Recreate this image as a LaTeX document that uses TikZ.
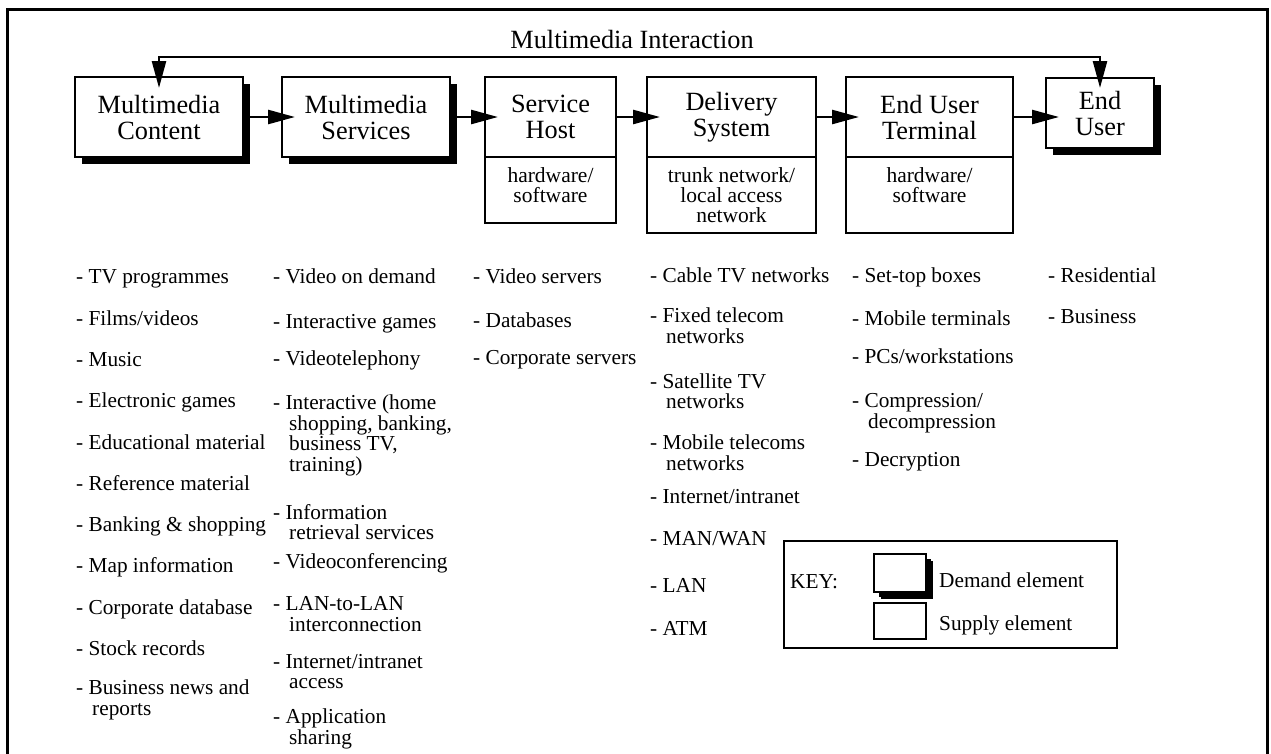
\documentclass[tikz,border=0pt]{standalone}
\usepackage{fontspec}
\setmainfont{Liberation Serif}
\usetikzlibrary{positioning,shadows,arrows.meta,calc}
\tikzstyle{supply} = [rectangle, draw=black, line width=2.5pt, fill=white, outer sep=0pt, inner sep=0pt, minimum width=168pt, minimum height=80pt, align=center, font=\fontsize{26.3}{26}\selectfont]
\tikzstyle{demand} = [supply, drop shadow={shadow xshift=7pt, shadow yshift=-7pt, fill=black, opacity=1}]
\tikzstyle{subbox} = [rectangle, draw=black, line width=2.5pt, fill=white, outer sep=0pt, inner sep=0pt]
\tikzstyle{subtext} = [anchor=north, align=center, inner sep=0pt, font=\fontsize{21.5}{20}\selectfont]
\tikzstyle{itemlist} = [anchor=north west, align=left, inner sep=0pt, font=\fontsize{21.3}{20.5}\selectfont]
\tikzstyle{arrow} = [line width=2.5pt, >={Triangle[length=27pt, width=14pt]}, ->]
\newcommand{\itemind}{\hspace*{16pt}}

\begin{document}
\begin{tikzpicture}[x=1pt, y=-1pt]
	\useasboundingbox (0,0) rectangle (1271,753);
	\draw[line width=3pt] (7,760) -- (7,9) -- (1267,9) -- (1267,760);
	%chain
	\node (mc) [demand] at (159,117) {Multimedia\\Content};
	\node (ms) [demand, right=39pt of mc] {Multimedia\\Services};
	\node (sh) [supply, minimum width=131pt, right=35pt of ms] {Service\\Host};
	\node (shsub) [subbox, minimum width=131pt, minimum height=66pt, below=0pt of sh] {};
	\node (ds) [supply, minimum width=169pt, right=31pt of sh] {Delivery\\System};
	\node (dssub) [subbox, minimum width=169pt, minimum height=76pt, below=0pt of ds] {};
	\node (eut) [supply, minimum width=167pt, right=30pt of ds] {End User\\Terminal};
	\node (eutsub) [subbox, minimum width=167pt, minimum height=76pt, below=0pt of eut] {};
	\node (eu) [demand, minimum width=108pt, minimum height=70pt, right=33pt of eut, yshift=4pt] {End\\User};
	\node (shtxt) [subtext] at ($(shsub.north)+(0,10.5)$) {hardware/\\software};
	\node (dstxt) [subtext] at ($(dssub.north)+(0,10.5)$) {trunk network/\\local access\\network};
	\node (euttxt) [subtext] at ($(eutsub.north)+(0,10.5)$) {hardware/\\software};
	\node (inter) [anchor=base, inner sep=0pt, font=\fontsize{26.3}{26}\selectfont] at (632,48) {Multimedia Interaction};
	%lines
	\draw [arrow, <->, shorten <=-11pt, shorten >=-10pt] (mc.north) -- ++(0,-20) -| (eu.north);
	\draw [arrow, shorten >=-13pt] (mc.east) -- (ms.west);
	\draw [arrow, shorten >=-13pt] (ms.east) -- (sh.west);
	\draw [arrow, shorten >=-13pt] (sh.east) -- (ds.west);
	\draw [arrow, shorten >=-13pt] (ds.east) -- (eut.west);
	\draw [arrow, shorten >=-13pt] (eut.east) -- (eut.east -| eu.west);
	%lists
	\node (col1) [itemlist] at (76,269.7) {- TV programmes\\[20.8pt]- Films/videos\\[20.8pt]- Music\\[20.8pt]- Electronic games\\[20.8pt]- Educational material\\[20.8pt]- Reference material\\[20.8pt]- Banking \& shopping\\[20.8pt]- Map information\\[20.8pt]- Corporate database\\[20.8pt]- Stock records\\[18.5pt]- Business news and\\\itemind reports};
	\node (col2) [itemlist] at (273,268.7) {- Video on demand\\[24.5pt]- Interactive games\\[16.5pt]- Videotelephony\\[23.5pt]- Interactive (home\\\itemind shopping, banking,\\\itemind business TV,\\\itemind training)\\[27.5pt]- Information\\\itemind retrieval services\\[8.5pt]- Videoconferencing\\[21.5pt]- LAN-to-LAN\\\itemind interconnection\\[16.5pt]- Internet/intranet\\\itemind access\\[14.5pt]- Application\\\itemind sharing};
	\node (col3) [itemlist] at (473,268.7) {- Video servers\\[23.5pt]- Databases\\[16.5pt]- Corporate servers};
	\node (col4) [itemlist] at (650,267.7) {- Cable TV networks\\[19.5pt]- Fixed telecom\\\itemind networks\\[24.5pt]- Satellite TV\\\itemind networks\\[20.5pt]- Mobile telecoms\\\itemind networks\\[12.5pt]- Internet/intranet\\[21.5pt]- MAN/WAN\\[26.5pt]- LAN\\[22.5pt]- ATM};
	\node (col5) [itemlist] at (852,267.7) {- Set-top boxes\\[22.5pt]- Mobile terminals\\[17.5pt]- PCs/workstations\\[23.5pt]- Compression/\\\itemind decompression\\[17.5pt]- Decryption};
	\node (col6) [itemlist] at (1048,267.7) {- Residential\\[20.5pt]- Business};
	%key
	\node (key) [subbox, minimum width=333pt, minimum height=107pt] at (950.5,594.5) {};
	\node (keylbl) [anchor=base west, inner sep=0pt, font=\fontsize{21.3}{20.5}\selectfont] at (790,588) {KEY:};
	\node (keyd) [demand, minimum width=52pt, minimum height=38pt, drop shadow={shadow xshift=5pt, shadow yshift=-5pt, fill=black, opacity=1}] at (900,573) {};
	\node (keys) [subbox, minimum width=52pt, minimum height=36pt] at (900,621) {};
	\node (keydtxt) [anchor=base west, inner sep=0pt, font=\fontsize{21.3}{20.5}\selectfont] at (939,587) {Demand element};
	\node (keystxt) [anchor=base west, inner sep=0pt, font=\fontsize{21.3}{20.5}\selectfont] at (939,630) {Supply element};
\end{tikzpicture}
\end{document}
